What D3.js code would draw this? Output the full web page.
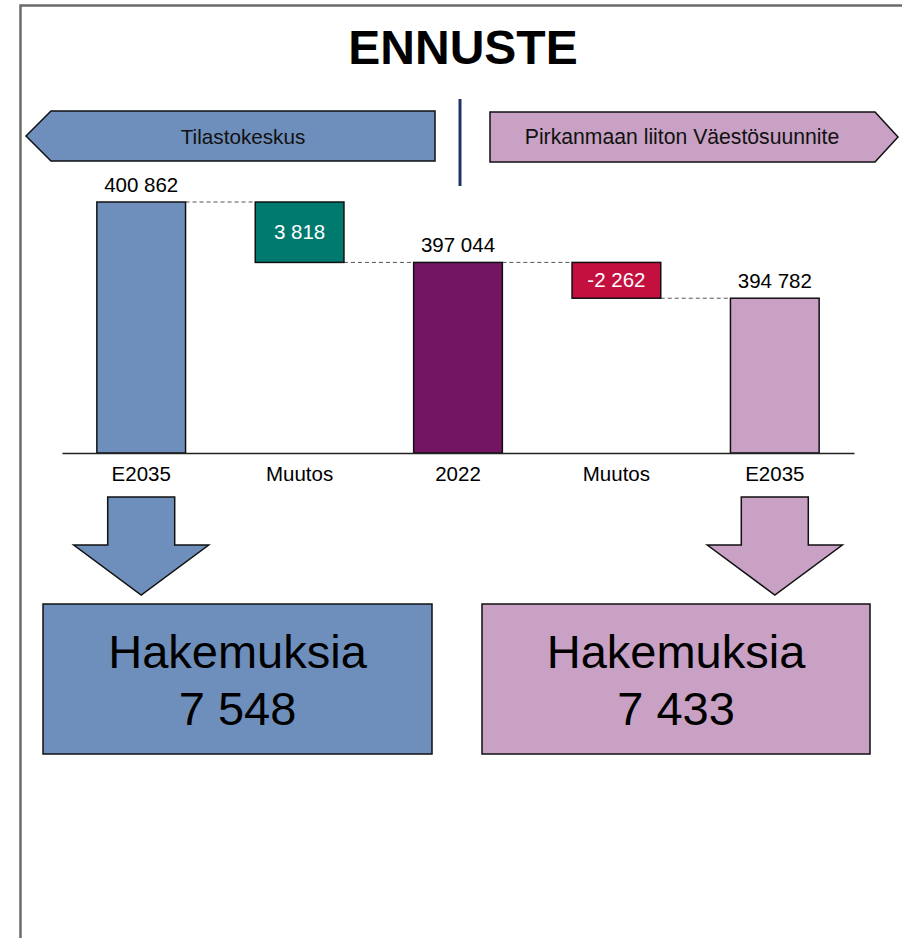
<!DOCTYPE html>
<html>
<head>
<meta charset="utf-8">
<script src="https://cdn.jsdelivr.net/npm/d3@7"></script>
<style>
  html, body { margin: 0; padding: 0; background: #fff; }
  svg { display: block; font-family: Arial, "Liberation Sans", sans-serif; }
</style>
</head>
<body>
<svg id="chart" width="902" height="938"></svg>
<script>
// Waterfall: forecast 2035 population from two sources, bridged through 2022
const categories = ["E2035", "Muutos", "2022", "Muutos", "E2035"];
const kinds      = ["total", "delta", "total", "delta", "total"];
const values     = [400862, 3818, 397044, -2262, 394782];
const barColors  = ["#6E8EBB", "#007A6E", "#731563", "#C4103F", "#C8A1C4"];
const baseIndex  = 2; // the 2022 bar that the change bars hang from
const yDomain    = [385000, 402000];

const sources      = ["Tilastokeskus", "Pirkanmaan liiton Väestösuunnite"];
const sourceColors = ["#6E8EBB", "#C8A1C4"];
const applications = [7548, 7433];
const appLabel     = "Hakemuksia";
const title        = "ENNUSTE";

const fmt = d3.formatLocale({ decimal: ",", thousands: " ", grouping: [3], currency: ["", ""], minus: "-" }).format(",d");

const svg = d3.select("#chart");

// frame
svg.append("path")
  .attr("d", "M20.5,938 V5.5 H902")
  .attr("fill", "none").attr("stroke", "#6b6b6b").attr("stroke-width", 2.5);

// title
svg.append("text")
  .attr("x", 463).attr("y", 64)
  .attr("text-anchor", "middle")
  .attr("font-size", 48).attr("font-weight", "bold")
  .text(title);

// scales
const x = d3.scaleBand().domain(d3.range(categories.length)).range([62, 854]).paddingInner(0.44).paddingOuter(0.22);
const y = d3.scaleLinear().domain(yDomain).range([453, 184]);

// bar extents
const base = values[baseIndex];
const bars = values.map((v, i) => {
  const lo = kinds[i] === "total" ? yDomain[0] : Math.min(base, base + v);
  const hi = kinds[i] === "total" ? v : Math.max(base, base + v);
  return { i, v, lo, hi, kind: kinds[i], color: barColors[i] };
});

// connectors
const connectors = bars.slice(0, -1).map((b, i) => ({
  x1: x(i) + x.bandwidth(),
  x2: x(i + 1),
  level: b.kind === "total" ? b.v : values[i + 1]
}));
svg.append("g").selectAll("line").data(connectors).join("line")
  .attr("x1", d => d.x1).attr("x2", d => d.x2)
  .attr("y1", d => y(d.level)).attr("y2", d => y(d.level))
  .attr("stroke", "#555").attr("stroke-width", 1).attr("stroke-dasharray", "4,3");

// bars
svg.append("g").selectAll("rect").data(bars).join("rect")
  .attr("x", d => x(d.i)).attr("width", x.bandwidth())
  .attr("y", d => y(d.hi)).attr("height", d => y(d.lo) - y(d.hi))
  .attr("fill", d => d.color).attr("stroke", "#111").attr("stroke-width", 1.5);

// value labels
svg.append("g").selectAll("text").data(bars).join("text")
  .attr("x", d => x(d.i) + x.bandwidth() / 2)
  .attr("y", d => d.kind === "total" ? y(d.hi) - 10 : (y(d.hi) + y(d.lo)) / 2 + 7)
  .attr("text-anchor", "middle").attr("font-size", 20.5)
  .attr("fill", d => d.kind === "total" ? "#000" : "#fff")
  .text(d => fmt(d.v));

// axis line and categories
const axis = svg.append("g").attr("transform", `translate(0,${y(yDomain[0])})`)
  .call(d3.axisBottom(x).tickSize(0).tickPadding(13).tickFormat(i => categories[i]));
axis.select(".domain").attr("stroke", "#222").attr("stroke-width", 1.5);
axis.selectAll("text").attr("font-size", 20.5).attr("font-family", "Arial, 'Liberation Sans', sans-serif").attr("fill", "#000");

// source divider
svg.append("line").attr("x1", 460).attr("x2", 460).attr("y1", 99).attr("y2", 186)
  .attr("stroke", "#1F3468").attr("stroke-width", 3);

// source tags (arrow-shaped)
const tags = [
  { name: sources[0], color: sourceColors[0], pts: [[26, 136], [51, 111], [435, 111], [435, 161], [51, 161]], cx: 243, size: 20.7 },
  { name: sources[1], color: sourceColors[1], pts: [[490, 112], [875, 112], [898, 137], [875, 162], [490, 162]], cx: 682, size: 21.2 }
];
const tg = svg.append("g").selectAll("g").data(tags).join("g");
tg.append("polygon").attr("points", d => d.pts.map(p => p.join(",")).join(" "))
  .attr("fill", d => d.color).attr("stroke", "#111").attr("stroke-width", 1.5);
tg.append("text").attr("x", d => d.cx).attr("y", 144).attr("text-anchor", "middle")
  .attr("font-size", d => d.size).attr("fill", "#111").text(d => d.name);

// down arrows and result boxes
const outcomes = [
  { idx: 0, color: sourceColors[0], value: applications[0], box: [43, 432] },
  { idx: 4, color: sourceColors[1], value: applications[1], box: [482, 870] }
];
const og = svg.append("g").selectAll("g").data(outcomes).join("g");
og.append("polygon")
  .attr("points", d => {
    const c = x(d.idx) + x.bandwidth() / 2;
    return [[c - 33.5, 497], [c + 33.5, 497], [c + 33.5, 545], [c + 67.5, 545], [c, 595], [c - 67.5, 545], [c - 33.5, 545]]
      .map(p => p.join(",")).join(" ");
  })
  .attr("fill", d => d.color).attr("stroke", "#111").attr("stroke-width", 1.5);
og.append("rect")
  .attr("x", d => d.box[0]).attr("width", d => d.box[1] - d.box[0])
  .attr("y", 604).attr("height", 150)
  .attr("fill", d => d.color).attr("stroke", "#111").attr("stroke-width", 1.5);
og.append("text").attr("x", d => (d.box[0] + d.box[1]) / 2).attr("y", 668)
  .attr("text-anchor", "middle").attr("font-size", 47).text(appLabel);
og.append("text").attr("x", d => (d.box[0] + d.box[1]) / 2).attr("y", 725)
  .attr("text-anchor", "middle").attr("font-size", 47).text(d => fmt(d.value));
</script>
</body>
</html>
